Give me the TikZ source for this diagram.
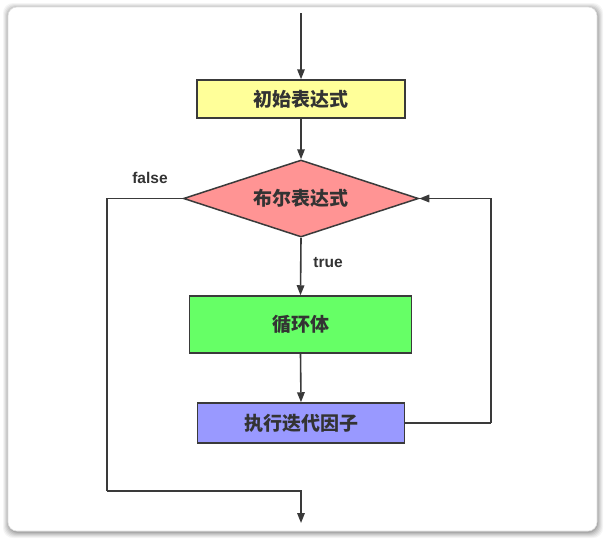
\documentclass[tikz,border=0pt]{standalone}
\usepackage{fontspec}
\newfontfamily\cjk{Noto Sans CJK SC}
\newfontfamily\lab{Liberation Sans}
\usetikzlibrary{shapes.geometric,arrows.meta}
\definecolor{edge}{HTML}{3A3A3A}
\definecolor{txt}{HTML}{333333}
\definecolor{yel}{HTML}{FFFF99}
\definecolor{red}{HTML}{FF9494}
\definecolor{grn}{HTML}{66FF66}
\definecolor{blu}{HTML}{9999FF}
\begin{document}
\begin{tikzpicture}[x=1pt,y=-1pt,
  box/.style={draw=edge,line width=1.5pt,inner sep=0pt,text=txt,font=\cjk\bfseries\fontsize{19}{22}\selectfont},
  lbl/.style={text=txt,font=\lab\bfseries\fontsize{15.5}{18}\selectfont,inner sep=0pt},
  arr/.style={draw=edge,line width=1.6pt,-{Triangle[length=10pt,width=7.5pt]}},
  ln/.style={draw=edge,line width=1.6pt}]
\useasboundingbox (0,0) rectangle (609,544);
% card with shadow
\foreach \i/\o in {6/0.04,5/0.05,4/0.06,3/0.07,2/0.08,1/0.1}{
  \fill[black,opacity=\o,rounded corners=10pt] (8-\i+1,7-\i+2) rectangle (597+\i,531+\i+1);
}
\fill[white,draw=black!12,line width=0.6pt,rounded corners=9pt] (8,7) rectangle (597,531);
% nodes
\node[box,fill=yel,minimum width=208pt,minimum height=38pt] (init) at (301,99) {初始表达式};
\node[box,fill=red,diamond,shape aspect=3.05,minimum width=235pt,minimum height=77pt] (cond) at (301,198.5) {布尔表达式};
\node[box,fill=grn,minimum width=222pt,minimum height=57pt] (body) at (300.5,324.5) {循环体};
\node[box,fill=blu,minimum width=207pt,minimum height=40pt] (iter) at (301,423) {执行迭代因子};
\node[lbl] (false) at (150,178) {false};
\node[lbl] (true) at (328,263) {true};
\coordinate (start) at (301,13);
\coordinate (L) at (107,491);
\coordinate (R) at (491,423);
\coordinate (end) at (301,523);
% connectors
\draw[arr] (start) -- (init.north);
\draw[arr] (init.south) -- (cond.north);
\draw[arr] (cond.south) -- (body.north);
\draw[arr] (body.south) -- (iter.north);
\draw[ln] (iter.east) -- (R);
\draw[arr] (R) |- (cond.east);
\draw[ln] (cond.west) -| (L);
\draw[arr] (L) -| (end);
\end{tikzpicture}
\end{document}
